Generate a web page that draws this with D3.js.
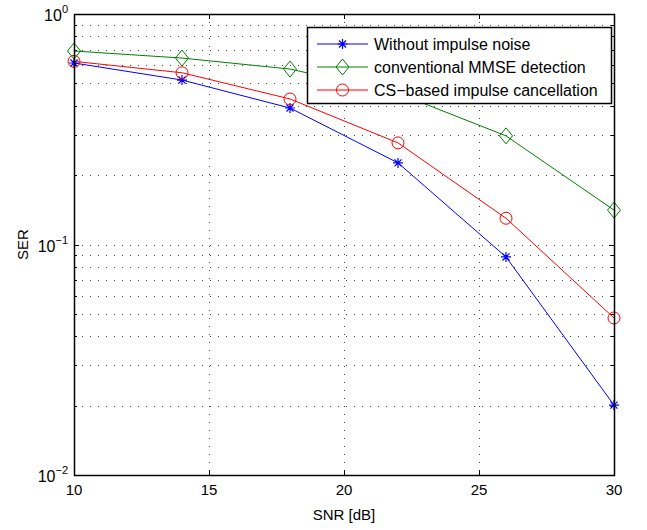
<!DOCTYPE html>
<html>
<head>
<meta charset="utf-8">
<script src="https://cdn.jsdelivr.net/npm/d3@7"></script>
<style>
  body { margin: 0; background: #fff; }
  text { font-family: "Liberation Sans", Arial, sans-serif; fill: #000; }
</style>
</head>
<body>
<svg width="647" height="530"></svg>
<script>
var snr = [10, 14, 18, 22, 26, 30],
    serNoImpulse = [0.613, 0.517, 0.391, 0.226, 0.0883, 0.0201],
    serMmse = [0.691, 0.644, 0.577, 0.453, 0.296, 0.141],
    serCs = [0.623, 0.556, 0.428, 0.276, 0.130, 0.048],
    xTicks = [10, 15, 20, 25, 30],
    yDecades = [-2, -1, 0],
    legendLabels = ["Without impulse noise", "conventional MMSE detection", "CS\u2212based impulse cancellation"];

var margin = {top: 14, right: 33, bottom: 55, left: 74},
    svg = d3.select("svg"),
    width = 647 - margin.left - margin.right,
    height = 530 - margin.top - margin.bottom;

var x = d3.scaleLinear().domain([10, 30]).range([0, width]),
    y = d3.scaleLog().domain([0.01, 1]).range([height, 0]);

var series = [
  {name: legendLabels[0], values: serNoImpulse, color: "#0000ff", marker: "star"},
  {name: legendLabels[1], values: serMmse, color: "#008000", marker: "diamond"},
  {name: legendLabels[2], values: serCs, color: "#ff0000", marker: "circle"}
];

var g = svg.append("g").attr("transform", "translate(" + margin.left + "," + margin.top + ")");

// minor + major log positions
var yAll = [];
for (var e = -2; e < 0; e++) {
  for (var m = 1; m < 10; m++) yAll.push(m * Math.pow(10, e));
}
yAll.push(1);

// grid
g.selectAll(".hgrid").data(yAll.filter(function(v) { return v > 0.01 && v < 1; }))
  .enter().append("line")
  .attr("x1", 0).attr("x2", width)
  .attr("y1", function(d) { return Math.round(y(d)) + 0.5; })
  .attr("y2", function(d) { return Math.round(y(d)) + 0.5; })
  .attr("stroke", "#444").attr("stroke-width", 1).attr("stroke-dasharray", "1,7");

g.selectAll(".vgrid").data(xTicks.slice(1, -1))
  .enter().append("line")
  .attr("y1", 0).attr("y2", height)
  .attr("x1", function(d) { return Math.round(x(d)) + 0.5; })
  .attr("x2", function(d) { return Math.round(x(d)) + 0.5; })
  .attr("stroke", "#444").attr("stroke-width", 1).attr("stroke-dasharray", "1,7");

// tick marks
var tickG = g.append("g").attr("stroke", "#000").attr("stroke-width", 1);
yAll.forEach(function(v) {
  var major = Math.abs(Math.log10(v) - Math.round(Math.log10(v))) < 1e-9;
  var len = major ? 5 : 3, yy = Math.round(y(v)) + 0.5;
  tickG.append("line").attr("x1", 0).attr("x2", len).attr("y1", yy).attr("y2", yy);
  tickG.append("line").attr("x1", width).attr("x2", width - len).attr("y1", yy).attr("y2", yy);
});
xTicks.forEach(function(v) {
  var xx = Math.round(x(v)) + 0.5;
  tickG.append("line").attr("x1", xx).attr("x2", xx).attr("y1", height).attr("y2", height - 5);
  tickG.append("line").attr("x1", xx).attr("x2", xx).attr("y1", 0).attr("y2", 5);
});

// tick labels
g.selectAll(".xlab").data(xTicks).enter().append("text")
  .attr("x", function(d) { return x(d); })
  .attr("y", height + 20)
  .attr("text-anchor", "middle")
  .style("font-size", "15px")
  .text(function(d) { return d; });

var yl = g.selectAll(".ylab").data(yDecades).enter().append("text")
  .attr("x", -6)
  .attr("y", function(d) { return y(Math.pow(10, d)) + 7; })
  .attr("text-anchor", "end")
  .style("font-size", "16px");
yl.append("tspan").text("10");
yl.append("tspan").attr("dy", -8).style("font-size", "11px")
  .text(function(d) { return d < 0 ? "\u2212" + (-d) : d; });

// axis labels
g.append("text").attr("x", width / 2).attr("y", height + 45)
  .attr("text-anchor", "middle").style("font-size", "15px").text("SNR [dB]");
g.append("text").attr("transform", "translate(" + (-46) + "," + (height / 2) + ") rotate(-90)")
  .attr("text-anchor", "middle").style("font-size", "15px").text("SER");

// lines
var line = d3.line().x(function(d, i) { return x(snr[i]); }).y(function(d) { return y(d); });

function drawMarker(sel, type, color) {
  if (type === "star") {
    var r = 5, path = "";
    [0, 45, 90, 135].forEach(function(a) {
      var rad = a * Math.PI / 180, dx = r * Math.cos(rad), dy = r * Math.sin(rad);
      path += "M" + (-dx) + "," + (-dy) + "L" + dx + "," + dy;
    });
    sel.append("path").attr("d", path).attr("stroke", color).attr("stroke-width", 1.2).attr("fill", "none");
  } else if (type === "diamond") {
    sel.append("path").attr("d", "M0,-8L6.5,0L0,8L-6.5,0Z").attr("stroke", color).attr("fill", "none");
  } else {
    sel.append("circle").attr("r", 6).attr("stroke", color).attr("fill", "none");
  }
}

series.forEach(function(s) {
  g.append("path").datum(s.values).attr("d", line)
    .attr("fill", "none").attr("stroke", s.color).attr("stroke-width", 1);
  g.selectAll(null).data(s.values).enter().append("g")
    .attr("transform", function(d, i) { return "translate(" + x(snr[i]) + "," + y(d) + ")"; })
    .each(function() { drawMarker(d3.select(this), s.marker, s.color); });
});

// frame
g.append("rect").attr("x", 0.5).attr("y", 0.5).attr("width", width).attr("height", height)
  .attr("fill", "none").attr("stroke", "#000").attr("stroke-width", 1.5);

// legend
var lg = svg.append("g").attr("transform", "translate(307,27)");
lg.append("rect").attr("x", 0.5).attr("y", 0.5).attr("width", 304).attr("height", 76)
  .attr("fill", "#fff").attr("stroke", "#000").attr("stroke-width", 1.5);
series.forEach(function(s, i) {
  var row = lg.append("g").attr("transform", "translate(0," + (17 + i * 23) + ")");
  row.append("line").attr("x1", 10).attr("x2", 61).attr("y1", 0).attr("y2", 0)
    .attr("stroke", s.color).attr("stroke-width", 1);
  var mk = row.append("g").attr("transform", "translate(35.5,0)");
  drawMarker(mk, s.marker, s.color);
  row.append("text").attr("x", 67).attr("y", 6).style("font-size", "16px").text(s.name);
});
</script>
</body>
</html>
